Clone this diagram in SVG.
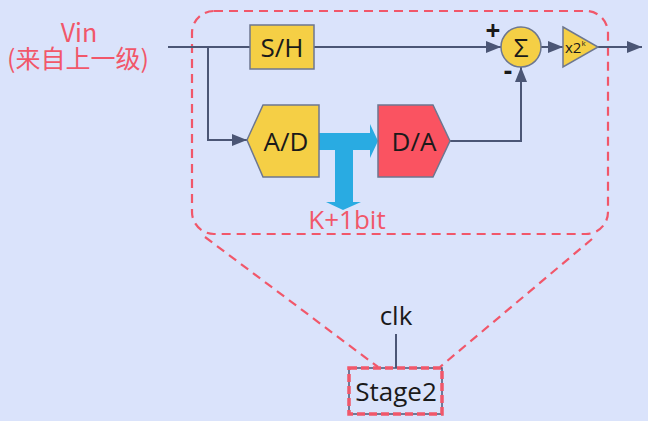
<svg xmlns="http://www.w3.org/2000/svg" width="648" height="421" viewBox="0 0 648 421">
<defs>
<marker id="arr" markerUnits="userSpaceOnUse" markerWidth="16" markerHeight="12" refX="15" refY="6" orient="auto">
<path d="M0,0 L15,6 L0,12 z" fill="#4b5675"/>
</marker>
<style>
.ln{stroke:#4b5675;stroke-width:2;fill:none}
.blk{fill:#f5cf45;stroke:#6d7790;stroke-width:1.5}
.red{fill:#fa5361;stroke:#6d7790;stroke-width:1.5}
.dash{stroke:#f1576a;stroke-width:2.2;fill:none;stroke-dasharray:9,6}
.t{font-family:"Open Sans","Noto Sans CJK SC",sans-serif;font-size:26px;fill:#1a1a1a;text-anchor:middle}
.cjk{font-family:"Noto Sans CJK SC",sans-serif;font-size:25px;fill:#f1576a;text-anchor:middle}
.rt{fill:#f1576a}
</style>
</defs>
<rect width="648" height="421" fill="#dae3fb"/>
<g id="frame">
<rect class="dash" x="192" y="11" width="416" height="223" rx="22"/>
<line class="dash" x1="205" y1="237" x2="378" y2="367"/>
<line class="dash" x1="592" y1="239" x2="440" y2="367"/>
</g>
<g id="connectors">
<polyline class="ln" points="168,47 250,47"/>
<polyline class="ln" points="208,47 208,140 247,140" marker-end="url(#arr)"/>
<polyline class="ln" points="314,47 501,47" marker-end="url(#arr)"/>
<polyline class="ln" points="541,47 563,47" marker-end="url(#arr)"/>
<polyline class="ln" points="598,47 642,47" marker-end="url(#arr)"/>
<polyline class="ln" points="450,141 521,141 521,67" marker-end="url(#arr)"/>
<line class="ln" x1="396" y1="334" x2="396" y2="368"/>
<polygon id="bus" fill="#29abe2" points="319,133 370,133 370,124 378,141 370,158 370,150 353,150 353,202 361,202 343,210 326,202 335,202 335,150 319,150"/>
</g>
<g id="vin">
<text class="cjk" x="79" y="42">Vin</text>
<text class="cjk" x="78" y="68">(来自上一级)</text>
</g>
<g id="sh">
<rect class="blk" x="250" y="25" width="64" height="44"/>
<text class="t" x="282" y="57">S/H</text>
</g>
<g id="ad">
<polygon class="blk" points="247,140 263,105 319,105 319,177 263,177"/>
<text class="t" x="286" y="151">A/D</text>
</g>
<g id="da">
<polygon class="red" points="378,105 433,105 450,141 433,177 378,177"/>
<text class="t" x="414" y="151">D/A</text>
</g>
<g id="sum">
<circle cx="521" cy="47" r="20" fill="#f5cf45" stroke="#6d7790" stroke-width="1.5"/>
<text class="t" x="521" y="57" font-size="28">Σ</text>
<text class="t" x="493" y="40" font-weight="bold" font-size="20">+</text>
<text class="t" x="508" y="80" font-weight="bold" font-size="20">-</text>
</g>
<g id="gain">
<polygon class="blk" points="563,27 598,47 563,67"/>
<text x="565" y="53" font-family="'Open Sans',sans-serif" font-size="15" fill="#1a1a1a">x2<tspan font-size="8" dy="-7">k</tspan></text>
</g>
<g id="kbit">
<text class="t rt" x="347" y="229" font-size="27">K+1bit</text>
</g>
<g id="stage2">
<text class="t" x="396" y="325">clk</text>
<rect x="349" y="368" width="93" height="46" fill="none" stroke="#4b5675" stroke-width="1.5"/>
<rect x="349" y="368" width="93" height="46" fill="none" stroke="#f1576a" stroke-width="3.5" stroke-dasharray="8,4"/>
<text class="t" x="396" y="401">Stage2</text>
</g>
</svg>
